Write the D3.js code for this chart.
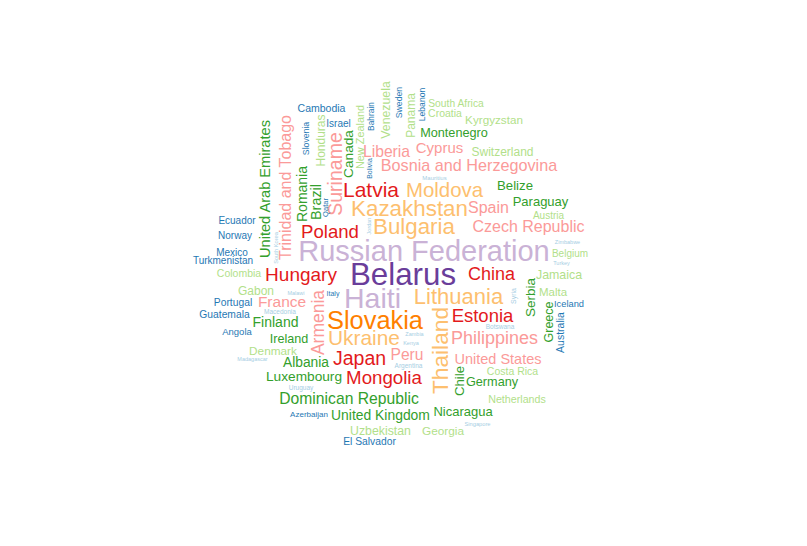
<!DOCTYPE html>
<html>
<head>
<meta charset="utf-8">
<script src="https://cdn.jsdelivr.net/npm/d3@7"></script>
<style>
html, body { margin: 0; padding: 0; background: #fff; }
svg { display: block; }
</style>
</head>
<body>
<div id="cloud"></div>
<script>
// one line per colour tier, the arrays below follow the same order
var countries = [
  "Belarus",
  "Russian Federation", "Haiti",
  "Slovakia",
  "Kazakhstan", "Bulgaria", "Moldova", "Lithuania", "Ukraine", "Thailand",
  "Latvia", "Poland", "Hungary", "China", "Estonia", "Japan", "Mongolia",
  "Suriname", "Trinidad and Tobago", "Liberia", "Cyprus", "Bosnia and Herzegovina", "Spain", "Czech Republic", "France", "Armenia", "Peru", "Philippines", "United States",
  "United Arab Emirates", "Romania", "Brazil", "Canada", "Montenegro", "Belize", "Paraguay", "Serbia", "Greece", "Finland", "Ireland", "Albania", "Luxembourg", "Dominican Republic", "United Kingdom", "Nicaragua", "Germany", "Chile",
  "Venezuela", "Honduras", "New Zealand", "Panama", "South Africa", "Croatia", "Kyrgyzstan", "Switzerland", "Austria", "Belgium", "Jamaica", "Malta", "Colombia", "Gabon", "Denmark", "Uzbekistan", "Georgia", "Costa Rica", "Netherlands",
  "Cambodia", "Israel", "Bahrain", "Slovenia", "Sweden", "Lebanon", "Ecuador", "Norway", "Mexico", "Turkmenistan", "Portugal", "Guatemala", "Angola", "Azerbaijan", "El Salvador", "Iceland", "Australia",
  "Bolivia", "Qatar", "Jordan", "South Korea", "Mauritius", "Zimbabwe", "Turkey", "Malawi", "Italy", "Macedonia", "Madagascar", "Uruguay", "Zambia", "Kenya", "Botswana", "Syria", "Singapore", "Argentina"
];

// word weight
var weights = [
  26.3,
  24, 23.5,
  20.4,
  17.4, 17.3, 15.4, 17, 15.9, 17.7,
  16, 13.6, 14, 13, 13.5, 14.5, 13.7,
  14.5, 11, 10.7, 10, 11.2, 11, 11, 10.5, 12.5, 10.6, 13, 9.5,
  9.6, 9, 9.4, 8.7, 7.7, 8.2, 8, 8.5, 7.5, 9, 7.6, 8.8, 8.7, 10.7, 8.9, 8, 7.7, 8.2,
  7.3, 7, 5.9, 7, 5.3, 5.5, 6.7, 7, 5, 5, 7.4, 6.5, 5.5, 7, 6.8, 7.3, 6.8, 5.5, 5.7,
  5.5, 5, 3.4, 3.7, 3.7, 3.6, 5, 5, 5, 5, 5.3, 5.3, 4.5, 3, 5.3, 4.3, 5.5,
  2, 2.5, 0.5, 0.7, 1, 0.5, 0.5, 0.5, 2, 1.5, 0.5, 1.5, 0.5, 0.5, 1.5, 2, 0.7, 1.5
];

var tiers = [
  9,
  8, 8,
  7,
  6, 6, 6, 6, 6, 6,
  5, 5, 5, 5, 5, 5, 5,
  4, 4, 4, 4, 4, 4, 4, 4, 4, 4, 4, 4,
  3, 3, 3, 3, 3, 3, 3, 3, 3, 3, 3, 3, 3, 3, 3, 3, 3, 3,
  2, 2, 2, 2, 2, 2, 2, 2, 2, 2, 2, 2, 2, 2, 2, 2, 2, 2, 2,
  1, 1, 1, 1, 1, 1, 1, 1, 1, 1, 1, 1, 1, 1, 1, 1, 1,
  1, 1, 0, 0, 0, 0, 0, 0, 1, 0, 0, 0, 0, 0, 0, 0, 0, 0
];

// a word cloud has no axes, so these are the places read off the picture,
// as offsets from the middle of the cloud
var cloudX = [
  18,
  39, -12.5,
  -10,
  24.5, 29, 59.5, 73.5, -21, 55,
  -14, -55, -84, 106.5, 97.5, -25.5, -1,
  -50, -99.5, 1.5, 54.5, 84, 103.5, 143.5, -103, -67, 22, 109.5, 113,
  -120, -83, -69.4, -36.5, 69, 130, 155.5, 145, 164, -109.5, -96, -79, -81, -36, -4.5, 78, 107, 74,
  1, -64.5, -25, 26, 71, 60, 109, 117.5, 163.5, 185, 174, 168, -146, -129, -112, -4.5, 58, 127.5, 132,
  -63.5, -46.5, -14, -79.3, 14, 37, -148, -150, -153, -162, -152, -160.5, -148, -76, -15.5, 184, 175,
  -15.5, -59.3, -16, -109, 49.5, 182.5, 176.5, -89, -52, -105, -132.5, -84, 29.5, 26, 115, 129, 92.5, 23.5
];

var cloudY = [
  9,
  -14, 33,
  55,
  -57, -39, -75, 31, 73, 85.5,
  -75, -34, 9, 9, 51, 93, 112,
  -91, -77.5, -113.5, -117.5, -100, -57.5, -39, 37, 57.5, 90, 72.5, 93.5,
  -76, -71, -63, -111, -132.5, -79.5, -63.5, 32.5, 57, 57, 74, 97, 111, 133, 150, 146, 116.5, 116,
  -155, -124.5, -128, -149.5, -161.5, -152, -145.5, -113, -50, -12, 10, 27, 8, 26, 85.5, 166, 166, 106, 134,
  -157, -142, -148.5, -126.5, -162.5, -160.5, -45, -30, -13, -5, 37.5, 49.5, 67, 149, 176, 39, 67.5,
  -96.5, -57.5, -39, -17, -87, -23, -2, 28, 29, 47, 94, 122.5, 69, 78, 61.5, 31, 159, 101
];

var verticalWords = [
  "Thailand", "Suriname", "Trinidad and Tobago", "Armenia",
  "United Arab Emirates", "Romania", "Brazil", "Canada", "Serbia", "Greece", "Chile",
  "Venezuela", "Honduras", "New Zealand", "Panama",
  "Bahrain", "Slovenia", "Sweden", "Lebanon", "Australia",
  "Bolivia", "Qatar", "Jordan", "South Korea", "Syria"
];

var width = 807, height = 546;

var svg = d3.select("#cloud").append("svg")
  .attr("width", width)
  .attr("height", height);

var x = d3.scaleLinear().domain([-200, 200]).range([185, 585]);
var y = d3.scaleLinear().domain([-200, 200]).range([65, 465]);
var fontSize = d3.scaleLinear().domain([0, 27]).range([5, 32]);
var color = d3.scaleOrdinal().domain(d3.range(10)).range(d3.schemePaired);

var words = countries.map(function(name, i){
  return {name: name, weight: weights[i], tier: tiers[i], cx: cloudX[i], cy: cloudY[i]};
});

svg.selectAll("text").data(words).enter().append("text")
  .attr("text-anchor", "middle")
  .attr("dy", "0.35em")
  .attr("font-family", "'Liberation Sans', Arial, sans-serif")
  .attr("font-size", function(d){ return fontSize(d.weight); })
  .attr("fill", function(d){ return color(d.tier); })
  .attr("transform", function(d){
    var t = "translate(" + x(d.cx) + "," + y(d.cy) + ")";
    return verticalWords.indexOf(d.name) >= 0 ? t + " rotate(-90)" : t;
  })
  .text(function(d){ return d.name; });
</script>
</body>
</html>
